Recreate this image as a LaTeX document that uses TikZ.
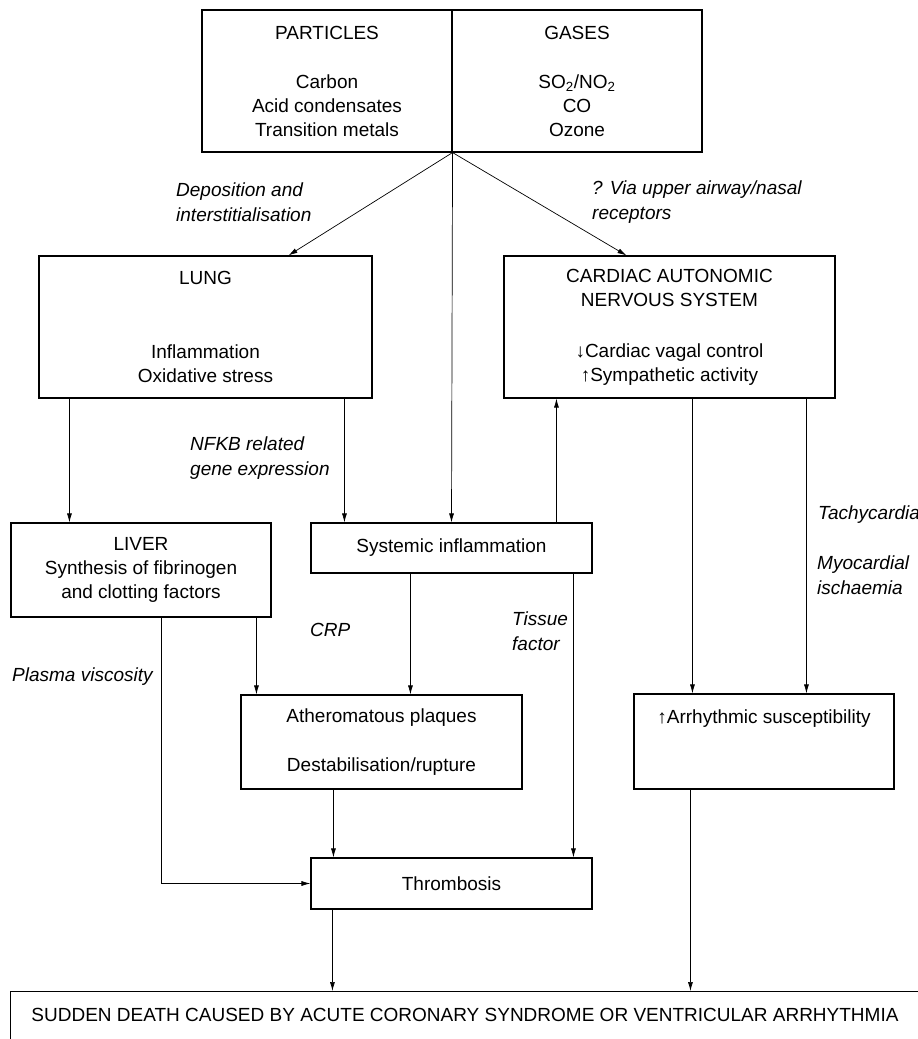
\documentclass[tikz,border=0pt]{standalone}
\usepackage{fontspec}
\setmainfont{Liberation Sans}
\usetikzlibrary{arrows.meta, positioning}

\begin{document}
\begin{tikzpicture}[x=1pt, y=-1pt,
        font=\fontsize{19pt}{24pt}\selectfont,
        box/.style={draw, line width=1.1pt, inner sep=0pt, align=center},
        lbl/.style={inner sep=0pt, anchor=west, align=left, font=\fontsize{19pt}{25pt}\selectfont\itshape},
        arr/.style={line width=0.7pt, -{Latex[length=9pt, width=5pt]}}]
        \clip (0,0) rectangle (918,1039);
        \fill[white] (0,0) rectangle (918,1039);

        \node[box, minimum width=250pt, minimum height=142pt] (parts) at (327,81) {PARTICLES\\[25pt]Carbon\\Acid condensates\\Transition metals};
        \node[box, minimum width=250pt, minimum height=142pt] (gases) at (577,81) {GASES\\[25pt]SO\textsubscript{2}/NO\textsubscript{2}\\CO\\Ozone};

        \node[box, minimum width=333pt, minimum height=142pt] (lung) at (205.5,327) {LUNG\\[50pt]Inflammation\\Oxidative stress};
        \node[box, minimum width=331pt, minimum height=142pt] (cans) at (669.5,327) {CARDIAC AUTONOMIC\\NERVOUS SYSTEM\\[27pt]↓Cardiac vagal control\\↑Sympathetic activity};

        \node[box, minimum width=260pt, minimum height=94pt] (liver) at (141,570) {LIVER\\Synthesis of fibrinogen\\and clotting factors};
        \node[box, minimum width=281pt, minimum height=50pt] (sysinf) at (451.5,548) {Systemic inflammation};

        \node[box, minimum width=281pt, minimum height=94pt] (athero) at (381.5,742) {Atheromatous plaques\\[25pt]Destabilisation/rupture};
        \node[box, minimum width=260pt, minimum height=95pt] (arrhy) at (764,741.5) {↑Arrhythmic susceptibility\\[25pt]\mbox{}};
        \node[box, minimum width=281pt, minimum height=51pt] (thromb) at (451.5,883.5) {Thrombosis};

        \node[box, minimum width=920pt, minimum height=80pt, anchor=north west] (death) at (10,991) {};
        \node (deathtxt) at (465,1015) {SUDDEN DEATH CAUSED BY ACUTE CORONARY SYNDROME OR VENTRICULAR ARRHYTHMIA};

        \node[lbl] (dep) at (176,202.5) {Deposition and\\interstitialisation};
        \node[lbl] (via) at (592,202.5) {? Via upper airway/nasal\\receptors};
        \node[lbl] (nfkb) at (190,458.5) {NFKB related\\gene expression};
        \node[lbl] (crp) at (310,630) {CRP};
        \node[lbl] (tissue) at (512,631) {Tissue\\factor};
        \node[lbl] (plasma) at (12,677) {Plasma viscosity};
        \node[lbl] (tachy) at (818,515) {Tachycardia};
        \node[lbl] (myo) at (817,575) {Myocardial\\ischaemia};

        \draw[arr] (parts.south east) -- ([xshift=250pt]lung.north west);
        \draw[arr] (parts.south east) -- ([xshift=123pt]cans.north west);
        \draw[arr] (parts.south east) -- (sysinf.north);
        \draw[arr] ([xshift=31pt]lung.south west) -- ([xshift=31pt]lung.south west |- liver.north);
        \draw[arr] ([xshift=306pt]lung.south west) -- ([xshift=306pt]lung.south west |- sysinf.north);
        \draw[arr] ([xshift=246pt]sysinf.north west) -- ([xshift=246pt]sysinf.north west |- cans.south);
        \draw[arr] ([xshift=189pt]cans.south west) -- ([xshift=189pt]cans.south west |- arrhy.north);
        \draw[arr] ([xshift=303pt]cans.south west) -- ([xshift=303pt]cans.south west |- arrhy.north);
        \draw[arr] ([xshift=151pt]liver.south west) |- (thromb.west);
        \draw[arr] ([xshift=246pt]liver.south west) -- ([xshift=246pt]liver.south west |- athero.north);
        \draw[arr] ([xshift=100pt]sysinf.south west) -- ([xshift=100pt]sysinf.south west |- athero.north);
        \draw[arr] ([xshift=263pt]sysinf.south west) -- ([xshift=263pt]sysinf.south west |- thromb.north);
        \draw[arr] ([xshift=93pt]athero.south west) -- ([xshift=93pt]athero.south west |- thromb.north);
        \draw[arr] ([xshift=22pt]thromb.south west) -- ([xshift=22pt]thromb.south west |- death.north);
        \draw[arr] ([xshift=57pt]arrhy.south west) -- ([xshift=57pt]arrhy.south west |- death.north);
\end{tikzpicture}
\end{document}
